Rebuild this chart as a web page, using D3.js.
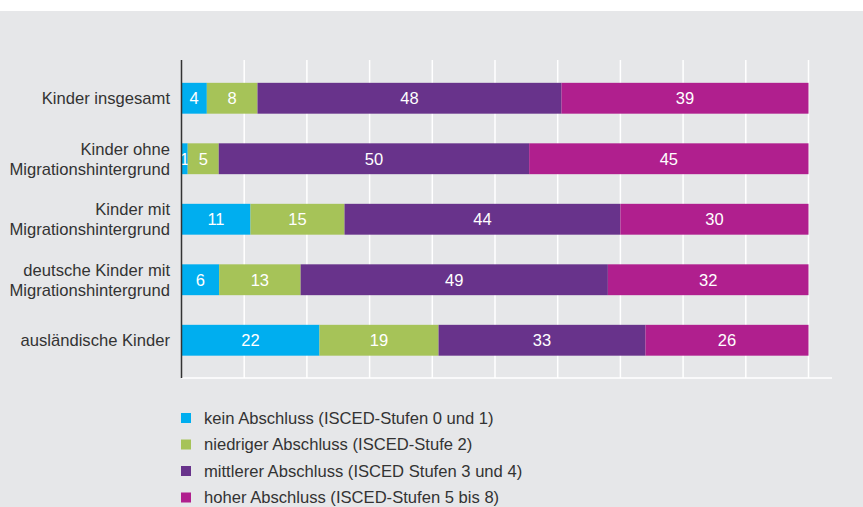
<!DOCTYPE html>
<html>
<head>
<meta charset="utf-8">
<script src="https://cdn.jsdelivr.net/npm/d3@7"></script>
<style>
  body { margin: 0; background: #fff; }
  svg { display: block; font-family: "Liberation Sans", Arial, sans-serif; }
</style>
</head>
<body>
<div id="chart"></div>
<script>
// Kategorien (Zeilen) und Anteile in Prozent
const categories = [
    ["Kinder insgesamt"],
    ["Kinder ohne", "Migrationshintergrund"],
    ["Kinder mit", "Migrationshintergrund"],
    ["deutsche Kinder mit", "Migrationshintergrund"],
    ["ausländische Kinder"]
];
const kein = [4, 1, 11, 6, 22];
const niedrig = [8, 5, 15, 13, 19];
const mittel = [48, 50, 44, 49, 33];
const hoch = [39, 45, 30, 32, 26];

const seriesNames = [
    "kein Abschluss (ISCED-Stufen 0 und 1)",
    "niedriger Abschluss (ISCED-Stufe 2)",
    "mittlerer Abschluss (ISCED Stufen 3 und 4)",
    "hoher Abschluss (ISCED-Stufen 5 bis 8)"
];
const colors = ["#00aeef", "#a6c358", "#68338b", "#b01f8e"];
const xTicks = [0, 0.1, 0.2, 0.3, 0.4, 0.5, 0.6, 0.7, 0.8, 0.9, 1];

const width = 863, height = 507;
const keys = ["kein", "niedrig", "mittel", "hoch"];
const rows = categories.map((c, i) => ({
    idx: i, kein: kein[i], niedrig: niedrig[i], mittel: mittel[i], hoch: hoch[i]
}));

const svg = d3.select("#chart").append("svg")
    .attr("width", width)
    .attr("height", height);

// grauer Hintergrund unter dem weißen Streifen
svg.append("rect")
    .attr("x", 0).attr("y", 11)
    .attr("width", width).attr("height", height - 11)
    .attr("fill", "#e6e7e9");

const x = d3.scaleLinear().domain([0, 1]).range([181.5, 808.5]);
const y = d3.scaleBand()
    .domain(rows.map(d => d.idx))
    .range([68, 370.5])
    .paddingInner(0.49)
    .paddingOuter(0.245);

const gridTop = 60, gridBottom = 378;

// Gitterlinien
svg.append("g")
    .selectAll("line")
    .data(xTicks.slice(1))
    .join("line")
    .attr("x1", d => x(d)).attr("x2", d => x(d))
    .attr("y1", gridTop).attr("y2", gridBottom)
    .attr("stroke", "#fff")
    .attr("stroke-width", 1.5);

svg.append("line")
    .attr("x1", x(0)).attr("x2", 832)
    .attr("y1", gridBottom).attr("y2", gridBottom)
    .attr("stroke", "#fff")
    .attr("stroke-width", 1.5);

// gestapelte Balken, je Zeile auf 100 % normiert
const stack = d3.stack().keys(keys).offset(d3.stackOffsetExpand);
const series = stack(rows);

const groups = svg.append("g")
    .selectAll("g")
    .data(series)
    .join("g")
    .attr("fill", (d, i) => colors[i]);

groups.selectAll("rect")
    .data(d => d)
    .join("rect")
    .attr("x", d => x(d[0]))
    .attr("y", d => y(d.data.idx))
    .attr("width", d => x(d[1]) - x(d[0]))
    .attr("height", y.bandwidth());

// Werte in den Balken
groups.each(function(s) {
    d3.select(this).selectAll("text")
        .data(s)
        .join("text")
        .attr("x", d => (x(d[0]) + x(d[1])) / 2)
        .attr("y", d => y(d.data.idx) + y.bandwidth() / 2)
        .attr("dy", "0.36em")
        .attr("text-anchor", "middle")
        .attr("fill", "#fff")
        .style("font-size", "16.5px")
        .text(d => d.data[s.key]);
});

// Achse links
svg.append("line")
    .attr("x1", x(0)).attr("x2", x(0))
    .attr("y1", gridTop).attr("y2", gridBottom)
    .attr("stroke", "#333")
    .attr("stroke-width", 1.5);

// Kategorienbeschriftung
const labels = svg.append("g")
    .selectAll("text")
    .data(categories)
    .join("text")
    .attr("text-anchor", "end")
    .attr("fill", "#333")
    .style("font-size", "16.6px")
    .attr("transform", (d, i) => `translate(170, ${y(i) + y.bandwidth() / 2})`);

labels.selectAll("tspan")
    .data(d => d.map((t, j) => ({ t, j, n: d.length })))
    .join("tspan")
    .attr("x", 0)
    .attr("y", d => (d.j - (d.n - 1) / 2) * 20)
    .attr("dy", "0.36em")
    .text(d => d.t);

// Legende
const legend = svg.append("g")
    .selectAll("g")
    .data(seriesNames)
    .join("g")
    .attr("transform", (d, i) => `translate(181, ${418 + i * 26.5})`);

legend.append("rect")
    .attr("x", 0).attr("y", -5)
    .attr("width", 10).attr("height", 10)
    .attr("fill", (d, i) => colors[i]);

legend.append("text")
    .attr("x", 23)
    .attr("dy", "0.36em")
    .attr("fill", "#333")
    .style("font-size", "16.6px")
    .text(d => d);
</script>
</body>
</html>
